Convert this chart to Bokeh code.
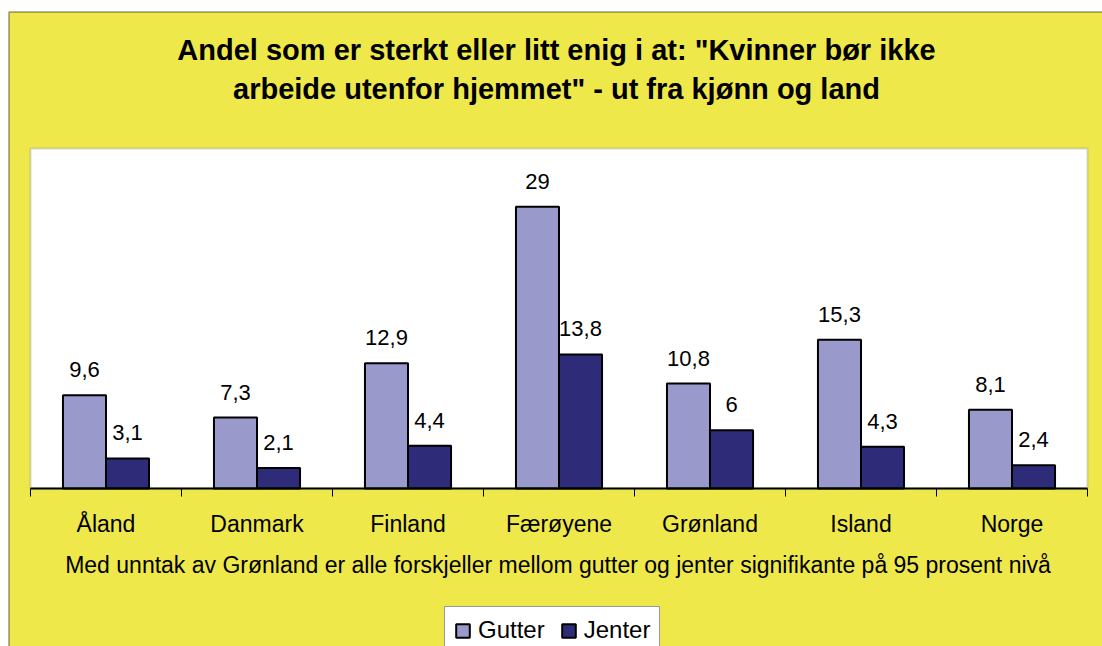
from bokeh.plotting import figure
from bokeh.models import (ColumnDataSource, Range1d, Label, LabelSet, Legend,
                          LegendItem, BoxAnnotation)
from bokeh.embed import file_html
from bokeh.resources import INLINE
from bokeh.core.properties import value

categories = ["Åland", "Danmark", "Finland", "Færøyene", "Grønland", "Island", "Norge"]
gutter = [9.6, 7.3, 12.9, 29.0, 10.8, 15.3, 8.1]
jenter = [3.1, 2.1, 4.4, 13.8, 6.0, 4.3, 2.4]
series_names = ["Gutter", "Jenter"]
title_lines = ['Andel som er sterkt eller litt enig i at: "Kvinner bør ikke',
               'arbeide utenfor hjemmet" - ut fra kjønn og land']
note = "Med unntak av Grønland er alle forskjeller mellom gutter og jenter signifikante på 95 prosent nivå"

FONT = "Liberation Sans"
YELLOW = "#EEE84A"
C_G = "#9999CC"
C_J = "#2E2C78"

W, H = 1102, 646
# plot-area geometry in page pixels
PX_L, PX_R, PY_T, PY_B = 30, 1087, 148, 488
Y_MAX = 35
n = len(categories)
XS = (PX_R - PX_L) / n
YS = (PY_B - PY_T) / Y_MAX

def px2x(px):
    return (px - PX_L) / XS

def py2y(py):
    return (PY_B - py) / YS

def fmt(v):
    return f"{v:g}".replace(".", ",")

bw = 0.285
centers = [i + 0.5 for i in range(n)]
src_g = ColumnDataSource(dict(x=[c - bw / 2 for c in centers], y=gutter,
                              lab=[fmt(v) for v in gutter]))
src_j = ColumnDataSource(dict(x=[c + bw / 2 for c in centers], y=jenter,
                              lab=[fmt(v) for v in jenter]))
src_cat = ColumnDataSource(dict(x=centers, y=[0] * n, lab=categories))

p = figure(width=W, height=H, output_backend="svg", toolbar_location=None,
           x_range=Range1d(px2x(0), px2x(W)), y_range=Range1d(py2y(H), py2y(0)),
           min_border=0, x_axis_location=None, y_axis_location=None)
p.background_fill_color = "white"
p.border_fill_color = "white"
p.outline_line_color = None
p.grid.visible = False

# chart area (yellow, black border on left/top)
p.add_layout(BoxAnnotation(left=px2x(8.5), top=py2y(11.5), right=px2x(W + 20),
                           bottom=py2y(H + 20), fill_color=YELLOW, fill_alpha=1,
                           line_color="black", line_width=2, level="underlay"))
# plot area (white, gray border)
p.add_layout(BoxAnnotation(left=0, right=n, bottom=0, top=Y_MAX,
                           fill_color="white", fill_alpha=1,
                           line_color="#808080", line_width=2, level="underlay"))

rg = p.vbar(x="x", top="y", width=bw, source=src_g, fill_color=C_G,
            line_color="black", line_width=2)
rj = p.vbar(x="x", top="y", width=bw, source=src_j, fill_color=C_J,
            line_color="black", line_width=2)

# category axis: line + ticks at category boundaries
bounds = list(range(n + 1))
p.segment(x0=[0], y0=[0], x1=[n], y1=[0], line_color="black", line_width=2)
p.segment(x0=bounds, y0=[0] * (n + 1), x1=bounds, y1=[py2y(PY_B + 8)] * (n + 1),
          line_color="black", line_width=1)

p.add_layout(LabelSet(x="x", y="y", text="lab", source=src_cat, y_offset=-(531 - PY_B),
                      text_align="center", text_baseline="alphabetic",
                      text_font=value(FONT), text_font_size="23px", text_color="black"))

for s in (src_g, src_j):
    p.add_layout(LabelSet(x="x", y="y", text="lab", source=s, y_offset=18,
                          text_align="center", text_baseline="alphabetic",
                          text_font=value(FONT), text_font_size="22px",
                          text_color="black"))

for line, mid in zip(title_lines, [49.5, 88.5]):
    p.add_layout(Label(x=px2x(556), y=py2y(mid), text=line, text_align="center",
                       text_baseline="middle", text_font=FONT,
                       text_font_size="29px", text_font_style="bold",
                       text_color="black"))

p.add_layout(Label(x=px2x(557.5), y=py2y(564), text=note, text_align="center",
                   text_baseline="middle", text_font=FONT,
                   text_font_size="23px", text_color="black"))

legend = Legend(items=[LegendItem(label=series_names[0], renderers=[rg]),
                       LegendItem(label=series_names[1], renderers=[rj])],
                orientation="horizontal", location=(444, -8),
                label_text_font=FONT, label_text_font_size="24px",
                label_text_color="black",
                label_height=27, glyph_width=17, glyph_height=17,
                label_standoff=7, spacing=15, padding=9, margin=0,
                border_line_color="#333333", border_line_width=1,
                background_fill_color="white", background_fill_alpha=1.0)
p.add_layout(legend, "center")

open("out.html", "w").write(file_html(p, INLINE))
